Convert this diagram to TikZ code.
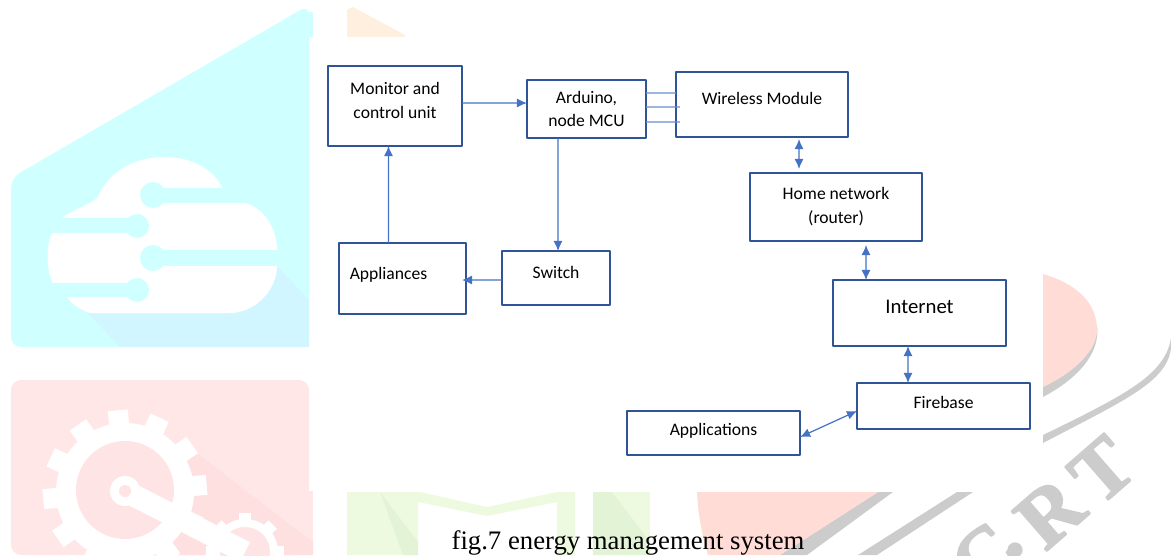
\documentclass[tikz,border=0pt]{standalone}
\usepackage{fontspec}
\setmainfont{Carlito}
\newfontfamily\capfont{Liberation Serif}
\newfontfamily\wmarkfont[FakeBold=2.5]{Liberation Serif Bold}
\usetikzlibrary{arrows.meta}
\definecolor{boxblue}{HTML}{2F5597}
\definecolor{linkblue}{HTML}{4472C4}
\definecolor{markcyan}{HTML}{CFFFFF}
\definecolor{shadecyan}{HTML}{D2F6FF}
\definecolor{markpink}{HTML}{FFE7E7}
\definecolor{shadepink}{HTML}{FEE0E0}
\definecolor{markorange}{HTML}{FFEFDF}
\definecolor{marksalmon}{HTML}{FFDCD5}
\definecolor{markgreen}{HTML}{EEFAE0}
\definecolor{shadegreen}{HTML}{E3F3D6}
\definecolor{markgrey}{HTML}{CCCCCC}
\tikzset{
  unit/.style={draw=boxblue, line width=0.55pt, inner sep=0pt, outer sep=0pt, align=center, font=\fontsize{5}{6.75}\selectfont},
  link/.style={draw=linkblue, line width=0.35pt, -{Latex[length=0.10cm,width=0.09cm]}},
  duplex/.style={draw=linkblue, line width=0.35pt, {Latex[length=0.10cm,width=0.09cm]}-{Latex[length=0.10cm,width=0.09cm]}},
  wire/.style={draw=linkblue!80, line width=0.35pt},
  wmark/.style={text=markgrey, rotate=41, font=\wmarkfont\fontsize{23}{24}\selectfont, inner sep=0pt},
}
\begin{document}
\begin{tikzpicture}[x=0.01cm, y=-0.01cm, line cap=butt, line join=round]
\useasboundingbox (0,0) rectangle (1171,555);
\clip (0,0) rectangle (1171,555);

% Cyan mark
\fill[markcyan] (309,12) rectangle (313,37);
\fill[markcyan, rounded corners=0.1cm] (11,347) -- (11,178) -- (309,5) -- (309,347) -- cycle;
\fill[shadecyan] (277,266) -- (309,300) -- (309,347) -- (120,347) -- (80,305) -- cycle;
\fill[white] (62,218) .. controls (75,208) and (90,205) .. (97,198) .. controls (110,170) and (135,157) .. (165,157) .. controls (190,157) and (212,168) .. (222,187) -- (222,203) -- (245,203) .. controls (265,208) and (277,230) .. (277,250) -- (277,266) .. controls (277,290) and (255,313) .. (230,313) -- (90,313) .. controls (80,310) and (72,304) .. (67,297) -- (67,283) -- (53,283) .. controls (46,270) and (46,245) .. (52,233) -- (62,233) -- cycle;
\fill[markcyan] (153,188) rectangle (245,203);
\fill[markcyan] (222,180) rectangle (250,188);
\fill[markcyan] (153,250) rectangle (285,266);
\fill[markcyan] (50,218) rectangle (137,233);
\fill[markcyan] (50,283) rectangle (137,297);
\fill[markcyan] (153,195) circle (13);
\fill[markcyan] (153,258) circle (13);
\fill[markcyan] (137,226) circle (12);
\fill[markcyan] (137,290) circle (12);

% Pink mark
\fill[markpink] (309,491) rectangle (313,555);
\fill[markpink, rounded corners=0.1cm] (11,380) rectangle (309,555);
\fill[shadepink] (190,448) -- (313,542) -- (313,555) -- (125,555) -- cycle;
\fill[white] (125,492) circle (69);
\foreach \a in {5,35,...,335}
  \fill[white, shift={(125,492)}, rotate=\a] (64,-10) rectangle (82,10);
\fill[markpink!60!shadepink] (125,490) circle (49);
\fill[white] (245,552) circle (33);
\foreach \a in {0,45,...,315}
  \fill[white, shift={(245,552)}, rotate=\a] (30,-6) rectangle (39,6);
\fill[markpink!60!shadepink] (245,552) circle (25);
\draw[white, line width=0.22cm] (125,491) -- (245,552);
\fill[white] (125,491) circle (15);
\fill[markpink!60!shadepink] (125,491) circle (6);

% Other marks
\fill[markorange] (347,37) -- (347,10) -- (353,7) -- (405,35) -- (405,37) -- cycle;
\fill[markgreen] (347,492) -- (420,492) -- (487,507) -- (557,492) -- (575,492) -- (575,555) -- (557,555) -- (557,502) -- (487,516) -- (418,502) -- (418,555) -- (347,555) -- cycle;
\fill[shadegreen] (380,492) -- (418,542) -- (418,555) -- (403,555) -- cycle;
\fill[markgreen] (593,492) rectangle (650,555);
\fill[shadegreen] (593,492) -- (612,492) -- (650,542) -- (650,555) -- (593,555) -- cycle;
\fill[markgrey] (878,492) -- (893,492) -- (807,555) -- (780,555) -- cycle;
\fill[marksalmon] (697,492) -- (878,492) -- (780,555) -- (708,555) .. controls (702,535) and (698,515) .. (697,492) -- cycle;
\fill[markgrey] (957,492) -- (973,492) -- (877,555) -- (858,555) -- cycle;
\fill[markgrey] (1097,325) .. controls (1101,355) and (1075,380) .. (1043,397) -- (1043,387) -- cycle;
\fill[marksalmon] (1043,274) .. controls (1080,285) and (1097,305) .. (1097,330) .. controls (1097,350) and (1075,372) .. (1043,387) -- cycle;
\fill[markgrey] (1171,338) .. controls (1165,375) and (1125,395) .. (1043,435) -- (1043,443) .. controls (1125,400) and (1167,382) .. (1171,348) -- cycle;
\node[wmark] (wmarkc) at (985,557) {C};
\node[wmark] (wmarkdot) at (1015,550) {.};
\node[wmark] (wmarkr) at (1050,513) {R};
\node[wmark] (wmarkt) at (1102,470) {T};

% Units
\node[unit, minimum width=1.34cm, minimum height=0.80cm, text depth=0.11cm] (monitor) at (395,106) {Monitor and\\control unit};
\node[unit, minimum width=1.19cm, minimum height=0.58cm, text depth=-0.03cm] (arduino) at (586.5,109) {Arduino,\\node MCU};
\node[unit, minimum width=1.72cm, minimum height=0.65cm, text depth=0.13cm] (wireless) at (762,104.5) {Wireless Module};
\node[unit, minimum width=1.72cm, minimum height=0.68cm, text depth=0.03cm] (router) at (836,207) {Home network\\(router)};
\node[unit, minimum width=1.73cm, minimum height=0.66cm, text depth=0.13cm, font=\fontsize{5.9}{7}\selectfont] (internet) at (919.5,313) {Internet};
\node[unit, minimum width=1.73cm, minimum height=0.46cm, text depth=0.08cm] (firebase) at (943.5,406) {Firebase};
\node[unit, minimum width=1.73cm, minimum height=0.44cm, text depth=0.08cm] (applications) at (713.5,433) {Applications};
\node[unit, minimum width=1.08cm, minimum height=0.54cm, text depth=0.11cm] (switch) at (556,278) {Switch};
\node[unit, minimum width=1.27cm, minimum height=0.71cm, text depth=0.11cm] (appliances) at (402.5,278.5) {Appliances\hspace*{0.28cm}};

% Connections
\draw[link] ([yshift=0.03cm]monitor.east) -- ([yshift=0.06cm]arduino.west);
\draw[link] ([xshift=-0.285cm]arduino.south) -- ([xshift=0.02cm]switch.north);
\draw[link] ([yshift=-0.02cm]switch.west) -- ([xshift=-0.04cm,yshift=-0.015cm]appliances.east);
\draw[link] ([xshift=-0.14cm]appliances.north) -- ([xshift=-0.065cm]monitor.south);
\draw[wire] ([yshift=0.16cm]arduino.east) -- ([yshift=0.115cm]wireless.west);
\draw[wire] ([yshift=0.02cm]arduino.east) -- ([xshift=0.04cm,yshift=-0.025cm]wireless.west);
\draw[wire] ([yshift=-0.13cm]arduino.east) -- ([xshift=0.04cm,yshift=-0.175cm]wireless.west);
\draw[duplex] ([xshift=0.37cm,yshift=-0.02cm]wireless.south) -- ([xshift=-0.37cm,yshift=0.04cm]router.north);
\draw[duplex] ([xshift=0.30cm,yshift=-0.04cm]router.south) -- ([xshift=-0.535cm]internet.north);
\draw[duplex] ([xshift=-0.115cm]internet.south) -- ([xshift=-0.355cm]firebase.north);
\draw[duplex] ([yshift=-0.04cm]applications.east) -- ([yshift=-0.05cm]firebase.west);

% Caption
\node[inner sep=0pt, font=\capfont\fontsize{7.6}{9}\selectfont] (caption) at (628,543) {fig.7 energy management system};
\end{tikzpicture}
\end{document}
